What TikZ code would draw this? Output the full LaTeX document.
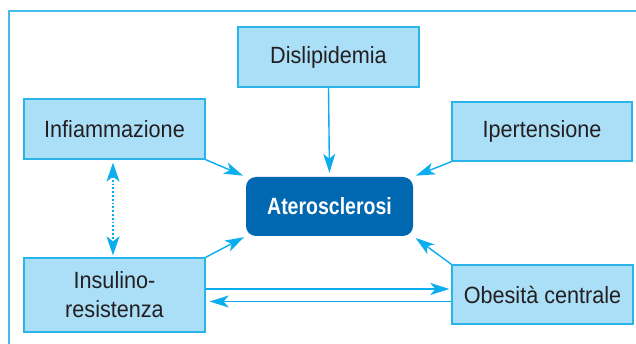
\documentclass[tikz,border=0pt]{standalone}
\usepackage{fontspec}
\setmainfont{Liberation Sans}
\newfontfamily\regcond[FakeStretch=0.92]{Liberation Sans}
\newfontfamily\boldcond[FakeStretch=0.83]{Liberation Sans Bold}
\usetikzlibrary{arrows.meta,calc}
\definecolor{boxfill}{HTML}{ABDFF8}
\definecolor{boxline}{HTML}{29B5EA}
\definecolor{arrcol}{HTML}{0AAEEE}
\definecolor{darkblue}{HTML}{0067B1}
\definecolor{txt}{HTML}{231F20}
\definecolor{framecol}{HTML}{45BCEC}
\tikzset{
  factor/.style={draw=boxline, line width=1.3pt, fill=boxfill, text=txt,
    font=\regcond\fontsize{23.5}{29}\selectfont, align=center, inner sep=0pt},
  central/.style={fill=darkblue, rounded corners=10pt, text=white,
    font=\boldcond\fontsize{23.5}{26}\selectfont, minimum width=167pt, minimum height=59pt},
  arr/.style={draw=arrcol, line width=1.4pt, -{Stealth[length=19pt,width=12pt,inset=5pt]}},
  darr/.style={draw=arrcol, line width=1.8pt, dotted,
    {Stealth[length=19pt,width=13pt,inset=5pt]}-{Stealth[length=19pt,width=13pt,inset=5pt]}},
}
\begin{document}
\begin{tikzpicture}[x=1pt,y=-1pt]
\useasboundingbox (0,0) rectangle (636,344);
\fill[white] (0,0) rectangle (636,344);
\draw[framecol, line width=2pt] (9,344) -- (9,11) -- (637,11);

\node[factor, minimum width=181pt, minimum height=60pt] (dis) at (328.5,57) {Dislipidemia};
\node[factor, minimum width=181pt, minimum height=60pt] (inf) at (114.5,129) {Infiammazione};
\node[factor, minimum width=181pt, minimum height=74pt] (ins) at (114.5,295) {Insulino-\\resistenza};
\node[factor, minimum width=180pt, minimum height=59pt] (ipe) at (542,131.5) {Ipertensione};
\node[factor, minimum width=181pt, minimum height=59pt] (obe) at (542.5,294.5) {Obesità centrale};
\node[central] (ate) at (329.5,206.5) {Aterosclerosi};

\draw[arr, shorten >=4pt] (dis.south) -- (ate.north);
\draw[arr, shorten >=3pt] (inf.south east) -- (ate.north west);
\draw[arr, shorten >=2pt] (ins.north east) -- (ate.south west);
\draw[arr, shorten >=3pt] (ipe.south west) -- (ate.north east);
\draw[arr, shorten >=3pt] (obe.north west) -- (ate.south east);

\draw[arr, shorten >=2pt] ([yshift=6pt]ins.east) -- ([yshift=6pt]ins.east -| obe.west);
\draw[arr, shorten >=4pt] ([yshift=-7pt]obe.west) -- ([yshift=-7pt]obe.west -| ins.east);

\draw[darr, shorten <=3pt, shorten >=2pt] ([xshift=-1.5pt]inf.south) -- ([xshift=-1.5pt]ins.north);
\end{tikzpicture}
\end{document}
